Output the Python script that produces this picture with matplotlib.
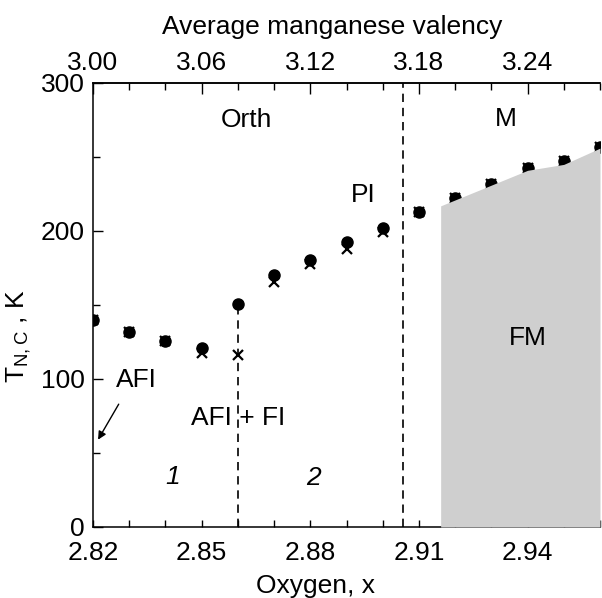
import numpy as np
import matplotlib
matplotlib.use("Agg")
import matplotlib.pyplot as plt
from matplotlib.ticker import MultipleLocator, FormatStrFormatter

plt.rcParams['font.family'] = ['Liberation Sans', 'DejaVu Sans']
plt.rcParams['mathtext.default'] = 'regular'

# oxygen content and transition temperatures
oxygen = [2.82, 2.83, 2.84, 2.85, 2.86, 2.87, 2.88, 2.89, 2.90, 2.91,
          2.92, 2.93, 2.94, 2.95, 2.96]
t_circle = [140, 132, 126, 121, 151, 170.5, 180.5, 192.5, 202, 212.5,
            222, 232, 242.5, 247.5, 257]
t_cross = [140, 132, 126, 117.5, 116.5, 165.5, 177.5, 188, 199.5, 212.5,
           222, 232, 242.5, 247.5, 257]

# FM region boundary
fm_x = [2.916, 2.94, 2.95, 2.96]
fm_top = [217, 241, 245, 256]

# phase boundaries
x_boundary1 = 2.86
x_boundary2 = 2.9057

valency_ticks = [3.00, 3.06, 3.12, 3.18, 3.24]


def to_valency(x):
    return 3.00 + 2 * (np.asarray(x) - 2.82)


def to_oxygen(v):
    return 2.82 + (np.asarray(v) - 3.00) / 2


fs = 19
fig = plt.figure(figsize=(6.02, 5.98), dpi=100)
ax = fig.add_axes([93 / 602, 1 - 527 / 598, 507 / 602, 444 / 598])

ax.fill_between(fm_x, 0, fm_top, color='#cfcfcf', lw=0, zorder=3)

ax.plot(oxygen, t_circle, 'o', color='black', ms=8, zorder=2)
ax.plot(oxygen, t_cross, 'x', color='black', ms=7.5, mew=1.6, zorder=2)

ax.plot([x_boundary1, x_boundary1], [0, t_circle[4]], color='black',
        lw=1.2, ls=(0, (5, 3.5)), zorder=1)
ax.plot([x_boundary2, x_boundary2], [0, 300], color='black',
        lw=1.2, ls=(0, (5, 3.5)), zorder=1)

ax.text(2.8625, 275, 'Orth', fontsize=fs, ha='center', va='center')
ax.text(2.934, 276, 'M', fontsize=fs, ha='center', va='center')
ax.text(2.8946, 224, 'PI', fontsize=fs, ha='center', va='center')
ax.text(2.940, 128, 'FM', fontsize=fs, ha='center', va='center', zorder=4)
ax.text(2.832, 99, 'AFI', fontsize=fs, ha='center', va='center')
ax.text(2.86, 73.5, 'AFI + FI', fontsize=fs, ha='center', va='center')
ax.text(2.842, 34, '1', fontsize=fs, style='italic', ha='center', va='center')
ax.text(2.881, 33, '2', fontsize=fs, style='italic', ha='center', va='center')
ax.annotate('', xy=(2.8214, 59), xytext=(2.8271, 83),
            arrowprops=dict(arrowstyle='-|>', lw=1, color='black',
                            mutation_scale=12, shrinkA=0, shrinkB=0))

ax.set_xlim(2.82, 2.96)
ax.set_ylim(0, 300)
ax.spines['right'].set_visible(False)
for s in ax.spines.values():
    s.set_linewidth(1.1)

ax.xaxis.set_major_locator(MultipleLocator(0.03))
ax.xaxis.set_minor_locator(MultipleLocator(0.01))
ax.xaxis.set_major_formatter(FormatStrFormatter('%.2f'))
ax.yaxis.set_major_locator(MultipleLocator(100))
ax.yaxis.set_minor_locator(MultipleLocator(50))
ax.tick_params(axis='x', which='both', direction='in', length=5, width=1,
               labelsize=fs, pad=10)
ax.tick_params(axis='y', which='major', direction='in', length=7, width=1,
               labelsize=fs, pad=6)
ax.tick_params(axis='y', which='minor', direction='in', length=5, width=1)

ax.set_xlabel('Oxygen, x', fontsize=fs)
ax.xaxis.set_label_coords(0.438, -0.105)
ax.set_ylabel('T$_{N,C}$ , K', fontsize=fs)
ax.yaxis.set_label_coords(-0.118, 0.43)

top = ax.secondary_xaxis('top', functions=(to_valency, to_oxygen))
top.set_xticks(valency_ticks)
top.xaxis.set_minor_locator(MultipleLocator(0.02))
top.xaxis.set_major_formatter(FormatStrFormatter('%.2f'))
top.tick_params(which='major', direction='in', length=8, width=1,
                labelsize=fs, pad=6)
top.tick_params(which='minor', direction='in', length=5, width=1)
top.spines['top'].set_linewidth(1.1)
top.set_xlabel('Average manganese valency', fontsize=fs)
top.xaxis.set_label_coords(0.471, 1.11, transform=ax.transAxes)

fig.savefig('out.png', dpi=100)
